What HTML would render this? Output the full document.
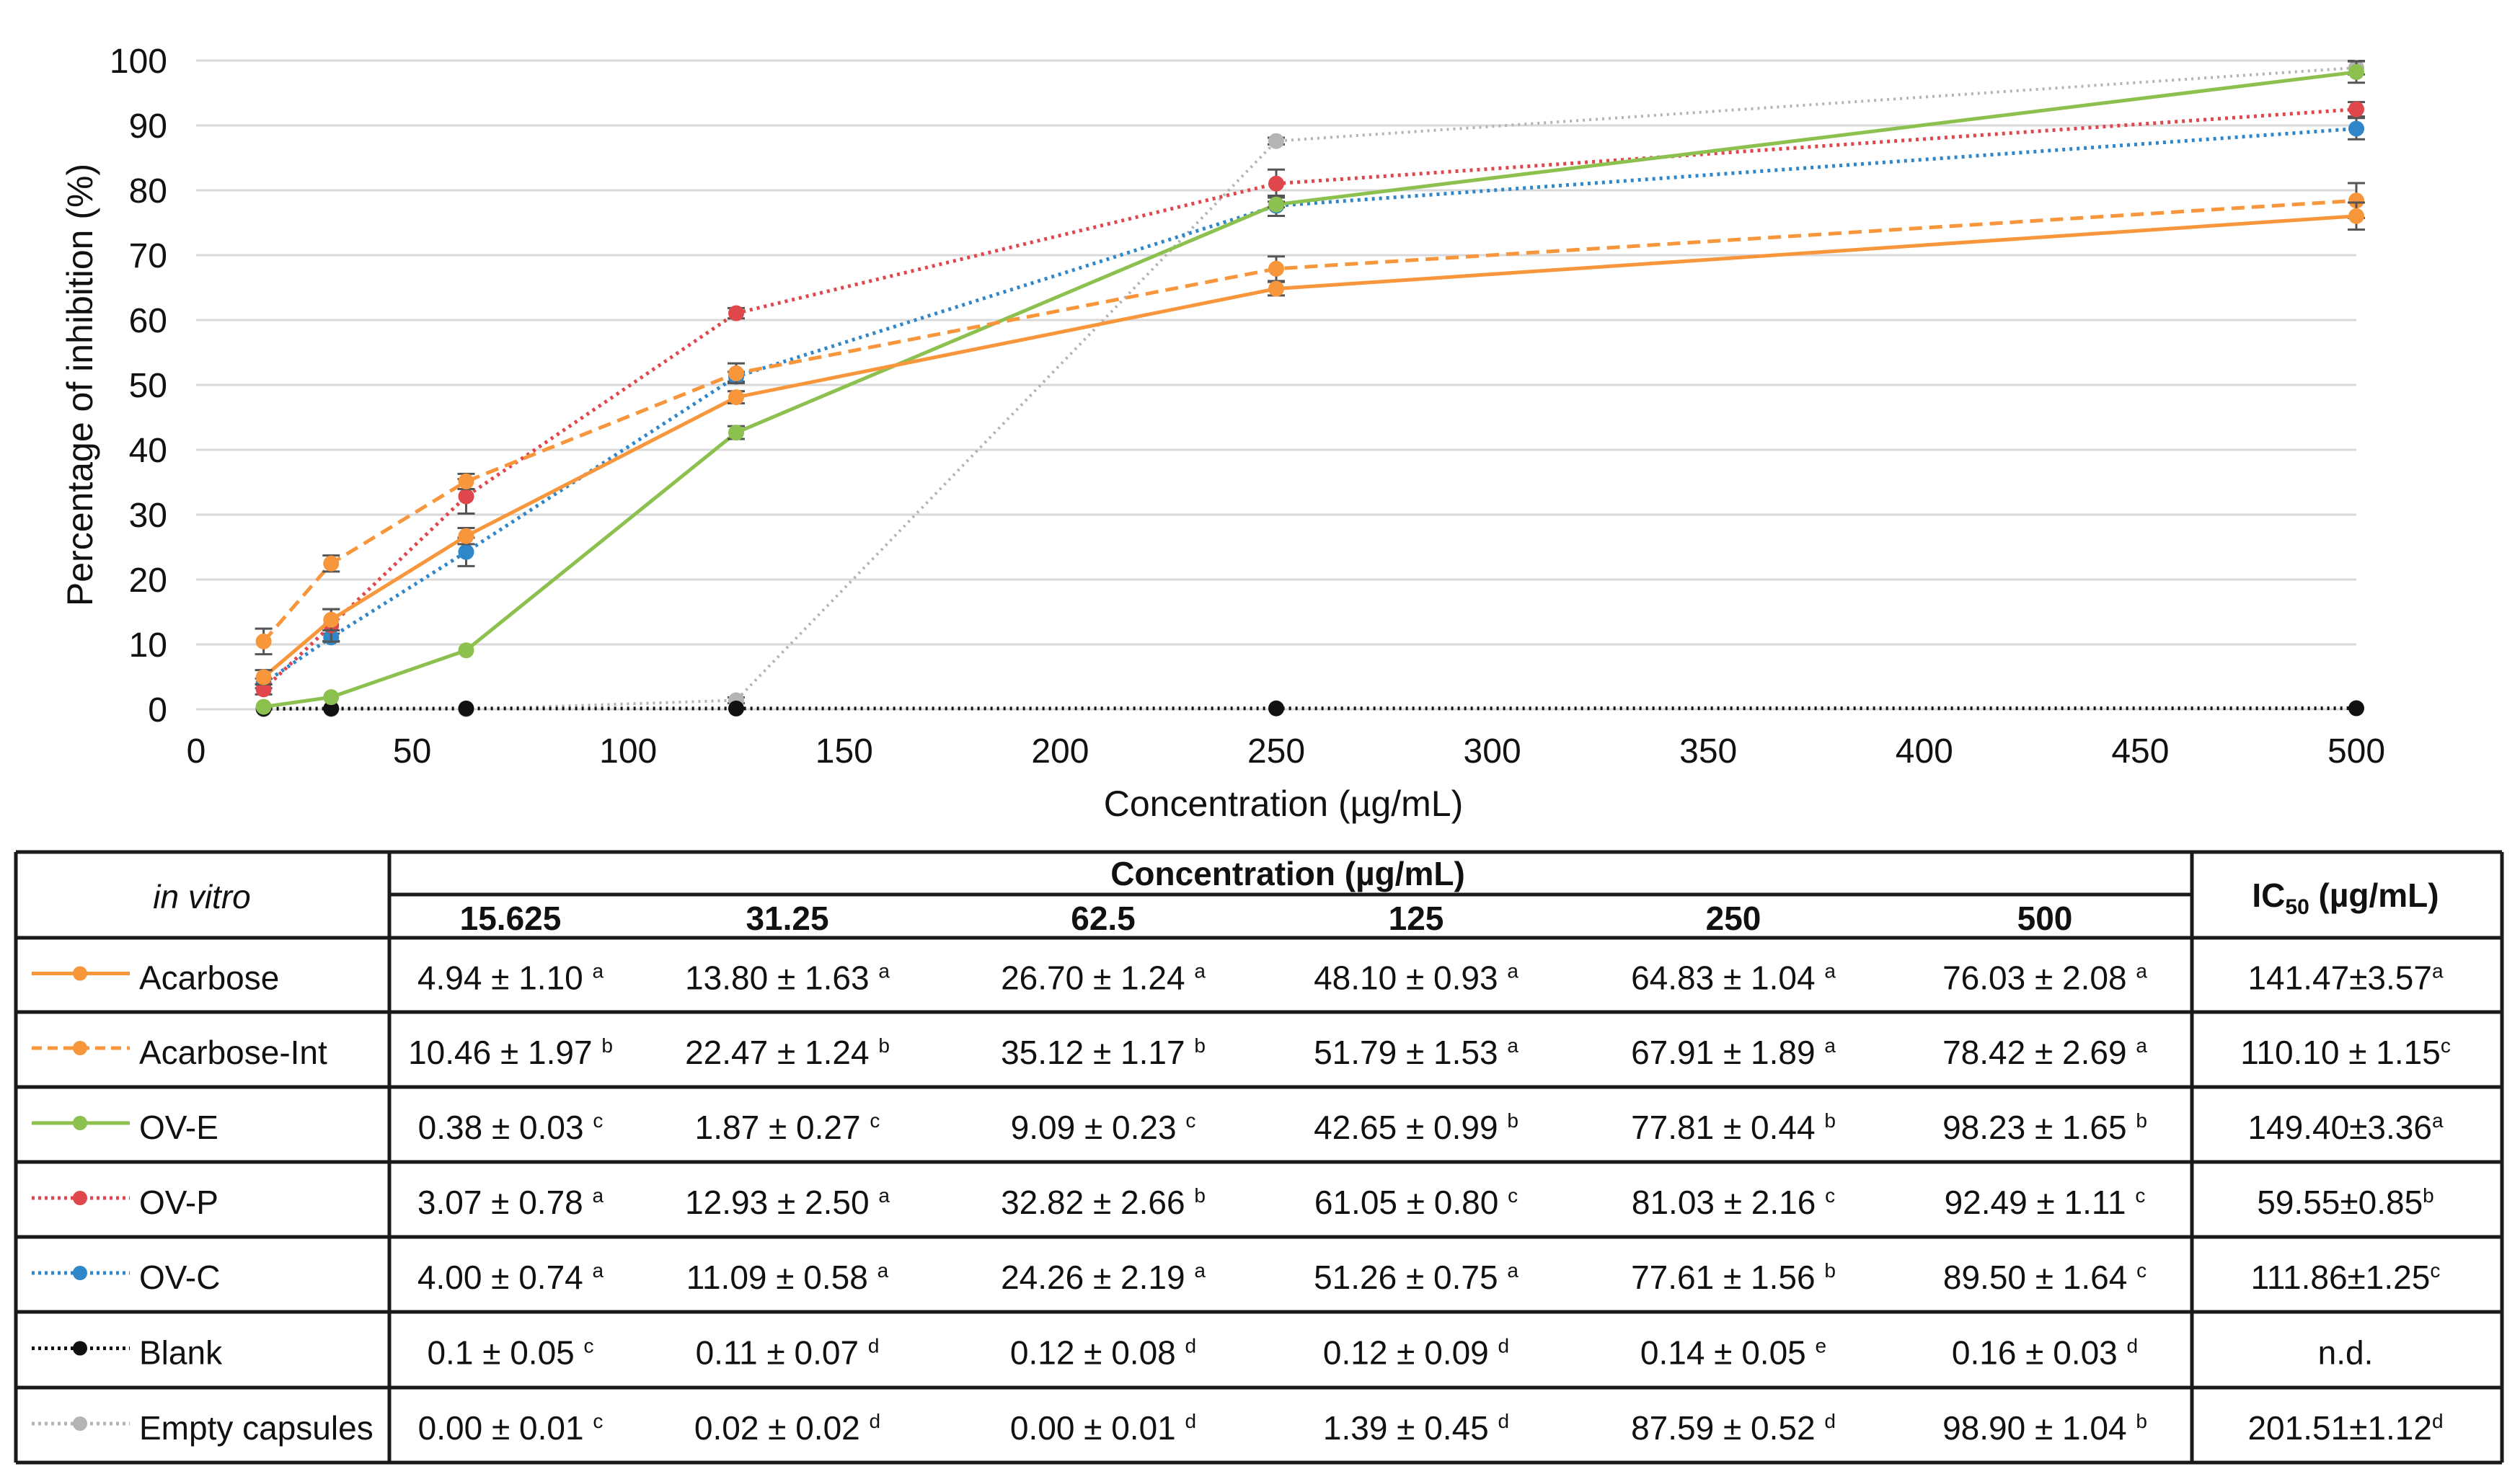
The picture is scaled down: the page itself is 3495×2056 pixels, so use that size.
<!DOCTYPE html>
<html><head><meta charset="utf-8">
<style>
html,body{margin:0;padding:0;background:#fff;}
svg{display:block;font-family:"Liberation Sans",Arial,sans-serif;}
</style></head>
<body>
<svg id="fig" width="3495" height="2056" viewBox="0 0 3495 2056" xmlns="http://www.w3.org/2000/svg">
<g id="chart"></g>
<g id="table"></g>
</svg>
<script>
const concentrations = [15.625, 31.25, 62.5, 125, 250, 500];
const acarbose = [4.94, 13.80, 26.70, 48.10, 64.83, 76.03];
const acarboseSd = [1.10, 1.63, 1.24, 0.93, 1.04, 2.08];
const acarboseInt = [10.46, 22.47, 35.12, 51.79, 67.91, 78.42];
const acarboseIntSd = [1.97, 1.24, 1.17, 1.53, 1.89, 2.69];
const ovE = [0.38, 1.87, 9.09, 42.65, 77.81, 98.23];
const ovESd = [0.03, 0.27, 0.23, 0.99, 0.44, 1.65];
const ovP = [3.07, 12.93, 32.82, 61.05, 81.03, 92.49];
const ovPSd = [0.78, 2.50, 2.66, 0.80, 2.16, 1.11];
const ovC = [4.00, 11.09, 24.26, 51.26, 77.61, 89.50];
const ovCSd = [0.74, 0.58, 2.19, 0.75, 1.56, 1.64];
const blank = [0.1, 0.11, 0.12, 0.12, 0.14, 0.16];
const blankSd = [0.05, 0.07, 0.08, 0.09, 0.05, 0.03];
const emptyCaps = [0.00, 0.02, 0.00, 1.39, 87.59, 98.90];
const emptyCapsSd = [0.01, 0.02, 0.01, 0.45, 0.52, 1.04];
const acarboseLet = ["a","a","a","a","a","a"];
const acarboseIntLet = ["b","b","b","a","a","a"];
const ovELet = ["c","c","c","b","b","b"];
const ovPLet = ["a","a","b","c","c","c"];
const ovCLet = ["a","a","a","a","b","c"];
const blankLet = ["c","d","d","d","e","d"];
const emptyCapsLet = ["c","d","d","d","d","b"];
const ic50Text = ["141.47±3.57","110.10 ± 1.15","149.40±3.36","59.55±0.85","111.86±1.25","n.d.","201.51±1.12"];
const ic50Let = ["a","c","a","b","c","","d"];
const yTicks = [0,10,20,30,40,50,60,70,80,90,100];
const xTicks = [0,50,100,150,200,250,300,350,400,450,500];
const seriesNames = ["Acarbose","Acarbose-Int","OV-E","OV-P","OV-C","Blank","Empty capsules"];

const NS = "http://www.w3.org/2000/svg";
function el(tag, attrs, parent, text){
  const e = document.createElementNS(NS, tag);
  for (const k in attrs) e.setAttribute(k, attrs[k]);
  if (text !== undefined) e.textContent = text;
  parent.appendChild(e);
  return e;
}
const X0 = 272, X1 = 3268, Y0 = 984, Y1 = 84;
const xs = v => X0 + (v/500)*(X1-X0);
const ys = v => Y0 - (v/100)*(Y0-Y1);

const chart = document.getElementById('chart');
yTicks.forEach(t => {
  const g = el('line',{x1:X0,x2:X1,y1:ys(t),y2:ys(t),stroke:'#d9d9d9','stroke-width':3},chart);
  
  
  const lb = el('text',{x:232,y:ys(t)+17,'text-anchor':'end','font-size':48,fill:'#111'},chart,String(t));
  
  
});
xTicks.forEach(t => {
  const lb = el('text',{x:xs(t),y:1058,'text-anchor':'middle','font-size':48,fill:'#111'},chart,String(t));
  
  
});
const yt = el('text',{x:0,y:0,'text-anchor':'middle','font-size':50,fill:'#111',transform:'translate(128,534) rotate(-90)'},chart,'Percentage of inhibition (%)');


const xt = el('text',{x:1780,y:1132,'text-anchor':'middle','font-size':50,fill:'#111'},chart,'Concentration (µg/mL)');



const series = [
  {vals:emptyCaps, sd:emptyCapsSd, color:'#b4b4b4', dash:'3 6', w:4, key:'empty-capsules'},
  {vals:blank, sd:blankSd, color:'#111', dash:'3 6', w:5, key:'blank'},
  {vals:ovC, sd:ovCSd, color:'#2f86c9', dash:'4 6', w:5, key:'ov-c'},
  {vals:ovP, sd:ovPSd, color:'#e0474c', dash:'4 6', w:5, key:'ov-p'},
  {vals:ovE, sd:ovESd, color:'#8cc04f', dash:'', w:5, key:'ov-e'},
  {vals:acarboseInt, sd:acarboseIntSd, color:'#f7963b', dash:'18 10', w:5, key:'acarbose-int'},
  {vals:acarbose, sd:acarboseSd, color:'#f7963b', dash:'', w:5, key:'acarbose'}
];
series.forEach(s => {
  const g = el('g',{},chart);
  
  
  const pts = concentrations.map((c,i)=>xs(c)+','+ys(s.vals[i])).join(' ');
  const pl = el('polyline',{points:pts,fill:'none',stroke:s.color,'stroke-width':s.w,'stroke-dasharray':s.dash},g);
  
  
  concentrations.forEach((c,i)=>{
    const x = xs(c), yt2 = ys(s.vals[i]+s.sd[i]), yb = ys(s.vals[i]-s.sd[i]);
    if (s.sd[i] > 0.3) {
      const eb = el('path',{d:`M${x},${yt2}V${yb}M${x-12},${yt2}H${x+12}M${x-12},${yb}H${x+12}`,stroke:'#555','stroke-width':3,fill:'none'},g);
      
      
    }
    const m = el('circle',{cx:x,cy:ys(s.vals[i]),r:11,fill:s.color},g);
    
    
  });
});

const T = document.getElementById('table');
const L = 22, C1 = 540, CI = 3040, R = 3470;
const rowTops = [1182,1301,1404,1508,1612,1716,1820,1925,2029];
const colCx = [708,1092,1530,1964,2404,2836];
const lineStyle = {stroke:'#1a1a1a','stroke-width':5};
function ln(x1,y1,x2,y2,name){
  const e = el('line',Object.assign({x1,y1,x2,y2},lineStyle),T);
  
  
}
ln(L,1182,R,1182,'table-top-border');
ln(C1,1241,CI,1241,'header-divider');
rowTops.slice(1).forEach(y=>ln(L,y,R,y,'row-border'));
ln(L,1182,L,2029,'table-left-border');
ln(C1,1182,C1,2029,'column-border');
ln(CI,1182,CI,2029,'column-border');
ln(R,1182,R,2029,'table-right-border');

const iv = el('text',{x:280,y:1260,'text-anchor':'middle','font-size':46,'font-style':'italic',fill:'#111'},T,'in vitro');


const ch = el('text',{x:1786,y:1228,'text-anchor':'middle','font-size':46,'font-weight':'bold',fill:'#111'},T,'Concentration (µg/mL)');


const ich = el('text',{x:3253,y:1258,'text-anchor':'middle','font-size':46,'font-weight':'bold',fill:'#111'},T);


el('tspan',{},ich,'IC');
el('tspan',{'font-size':30,dy:10},ich,'50');
el('tspan',{dy:-10},ich,' (µg/mL)');
concentrations.forEach((c,i)=>{
  const h = el('text',{x:colCx[i],y:1290,'text-anchor':'middle','font-size':46,'font-weight':'bold',fill:'#111'},T,String(c));
  
  
});

const tblVals = [acarbose,acarboseInt,ovE,ovP,ovC,blank,emptyCaps];
const tblSd = [acarboseSd,acarboseIntSd,ovESd,ovPSd,ovCSd,blankSd,emptyCapsSd];
const tblLet = [acarboseLet,acarboseIntLet,ovELet,ovPLet,ovCLet,blankLet,emptyCapsLet];
const legendStyle = [
  {c:'#f7963b',d:''},{c:'#f7963b',d:'14 8'},{c:'#8cc04f',d:''},
  {c:'#e0474c',d:'4 5'},{c:'#2f86c9',d:'4 5'},{c:'#111',d:'4 5'},{c:'#b4b4b4',d:'4 5'}
];
function fmt(v,name){
  if (name==='Blank' && v===0.1) return '0.1';
  return v.toFixed(2);
}
seriesNames.forEach((nm,r)=>{
  const top = rowTops[r+1], bot = rowTops[r+2], cy = (top+bot)/2 + 4;
  const g = el('g',{},T);
  
  
  const ls = legendStyle[r];
  el('line',{x1:44,x2:180,y1:cy-6,y2:cy-6,stroke:ls.c,'stroke-width':5,'stroke-dasharray':ls.d},g);
  el('circle',{cx:111,cy:cy-6,r:10,fill:ls.c},g);
  el('text',{x:193,y:cy+16,'font-size':46,fill:'#111'},g,nm);
  concentrations.forEach((c,i)=>{
    const t = el('text',{x:colCx[i],y:cy+16,'text-anchor':'middle','font-size':46,fill:'#111'},T);
    
    
    el('tspan',{},t,fmt(tblVals[r][i],nm)+' ± '+tblSd[r][i].toFixed(2)+' ');
    el('tspan',{'font-size':28,dy:-16},t,tblLet[r][i]);
  });
  const ic = el('text',{x:3253,y:cy+16,'text-anchor':'middle','font-size':46,fill:'#111'},T);
  
  
  el('tspan',{},ic,ic50Text[r]);
  if (ic50Let[r]) el('tspan',{'font-size':28,dy:-16},ic,ic50Let[r]);
});
</script>
</body></html>
